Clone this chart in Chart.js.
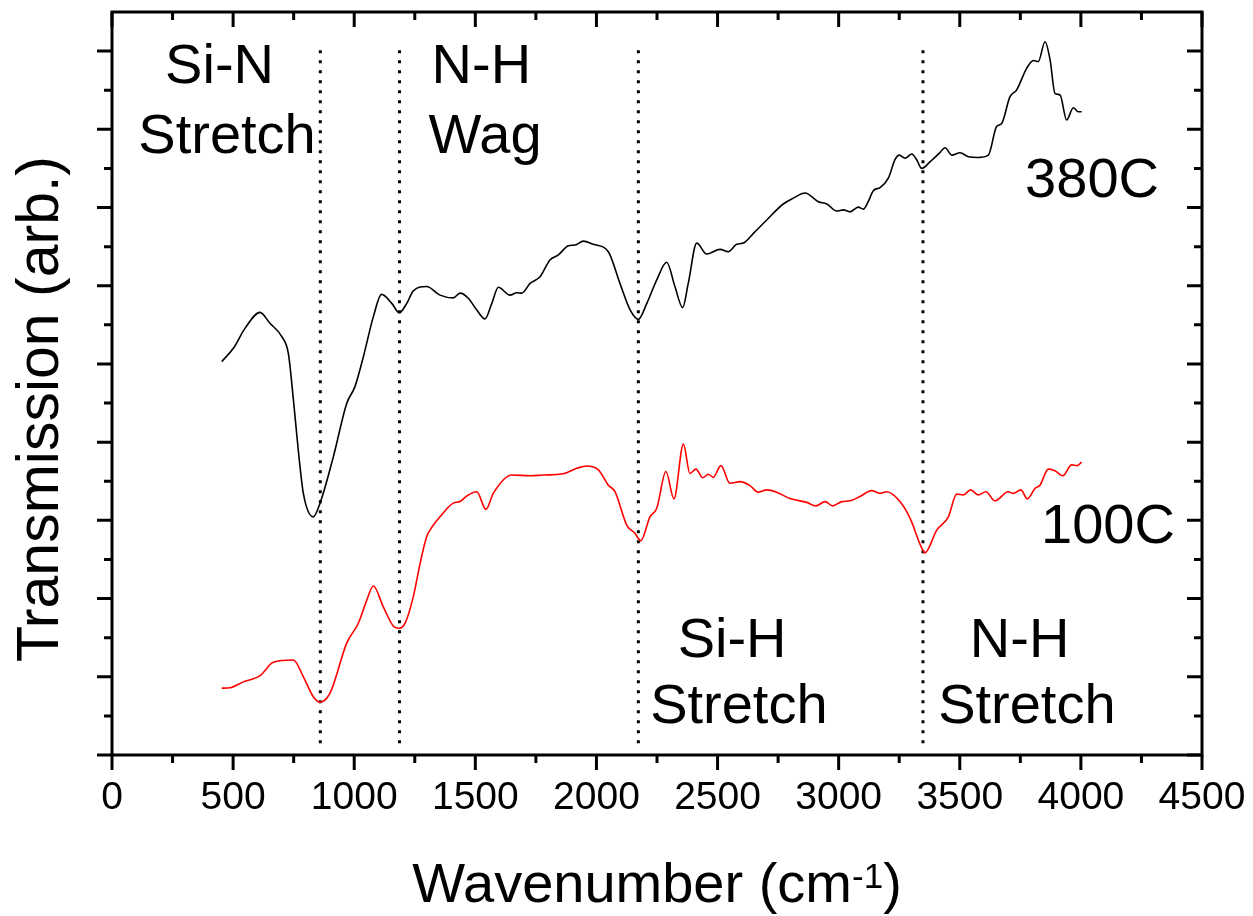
<!DOCTYPE html>
<html>
<head>
<meta charset="utf-8">
<script src="https://cdn.jsdelivr.net/npm/chart.js@4.4.0/dist/chart.umd.min.js"></script>
<style>
  html, body { margin: 0; padding: 0; background: #fff; }
  #wrap { width: 1253px; height: 916px; }
</style>
</head>
<body>
<div id="wrap"><canvas id="chart" width="1253" height="916"></canvas></div>
<script>
// 380C film spectrum
const wn380 = [
  453, 501, 549, 611, 652, 701, 728, 749, 769, 790,
  831, 859, 914, 969, 1003, 1038, 1079, 1113, 1155, 1186,
  1217, 1244, 1299, 1354, 1409, 1437, 1471, 1506, 1540, 1568,
  1595, 1643, 1671, 1691, 1726, 1767, 1808, 1843, 1884, 1912,
  1946, 1987, 2049, 2097, 2139, 2173, 2208, 2249, 2290, 2324,
  2356, 2379, 2414, 2455, 2510, 2544, 2579, 2606, 2648, 2703,
  2771, 2813, 2861, 2916, 2951, 2992, 3019, 3047, 3081, 3102,
  3122, 3143, 3171, 3205, 3233, 3250, 3274, 3302, 3322, 3343,
  3377, 3416, 3439, 3467, 3501, 3535, 3576, 3618, 3652, 3673,
  3707, 3735, 3776, 3804, 3824, 3852, 3873, 3893, 3914, 3941,
  3969, 3989, 4003
];
const tr380 = [
  10.06, 10.40, 10.91, 11.32, 11.04, 10.70, 10.27, 9.08, 7.80, 6.69,
  6.09, 6.44, 7.63, 8.99, 9.42, 10.19, 11.21, 11.78, 11.55, 11.31,
  11.55, 11.87, 11.98, 11.76, 11.69, 11.81, 11.68, 11.38, 11.15, 11.55,
  11.96, 11.76, 11.82, 11.81, 12.06, 12.23, 12.66, 12.79, 13.02, 13.04,
  13.14, 13.06, 12.87, 12.06, 11.38, 11.14, 11.55, 12.15, 12.60, 11.98,
  11.44, 12.06, 13.09, 12.81, 12.93, 12.87, 13.06, 13.09, 13.34, 13.68,
  14.09, 14.24, 14.37, 14.15, 14.09, 13.91, 13.94, 13.89, 14.01, 13.96,
  14.15, 14.43, 14.51, 14.75, 15.23, 15.34, 15.26, 15.37, 15.22, 15.00,
  15.17, 15.39, 15.53, 15.34, 15.40, 15.30, 15.28, 15.34, 16.07, 16.15,
  16.83, 17.01, 17.56, 17.76, 17.73, 18.24, 17.77, 16.92, 16.88, 16.24,
  16.55, 16.45, 16.45
];

// 100C film spectrum
const wn100 = [
  453, 487, 542, 611, 666, 749, 790, 831, 859, 900,
  969, 1017, 1052, 1079, 1120, 1161, 1186, 1210, 1244, 1272,
  1299, 1313, 1354, 1409, 1437, 1464, 1506, 1544, 1574, 1650,
  1726, 1781, 1863, 1919, 1960, 2008, 2049, 2077, 2125, 2159,
  2183, 2221, 2249, 2287, 2320, 2359, 2386, 2411, 2439, 2462,
  2482, 2514, 2551, 2593, 2634, 2668, 2703, 2744, 2799, 2868,
  2906, 2944, 2975, 3013, 3047, 3088, 3136, 3171, 3198, 3253,
  3295, 3343, 3356, 3405, 3453, 3487, 3515, 3545, 3576, 3608,
  3645, 3700, 3721, 3752, 3779, 3811, 3831, 3866, 3893, 3925,
  3962, 3985, 4003
];
const tr100 = [
  1.71, 1.72, 1.87, 2.03, 2.37, 2.43, 2.00, 1.49, 1.35, 1.58,
  2.86, 3.37, 3.96, 4.32, 3.79, 3.30, 3.24, 3.37, 4.05, 4.90,
  5.58, 5.75, 6.09, 6.44, 6.48, 6.62, 6.73, 6.28, 6.69, 7.16,
  7.14, 7.16, 7.19, 7.33, 7.39, 7.29, 6.90, 6.73, 5.88, 5.67,
  5.48, 6.09, 6.31, 7.25, 6.55, 7.95, 7.20, 7.31, 7.09, 7.18,
  7.10, 7.40, 6.95, 6.99, 6.89, 6.72, 6.78, 6.72, 6.56, 6.46,
  6.37, 6.48, 6.37, 6.48, 6.50, 6.61, 6.76, 6.69, 6.73, 6.48,
  6.05, 5.29, 5.17, 5.75, 6.09, 6.67, 6.65, 6.78, 6.65, 6.73,
  6.50, 6.73, 6.69, 6.78, 6.55, 6.82, 6.90, 7.31, 7.27, 7.14,
  7.42, 7.40, 7.49
];

// band markers (dotted lines)
const bandPositions = [860, 1187, 2173, 3348];
const bandRange = [0.3, 18.05];

// axis ticks
const xMajorTicks = [0, 500, 1000, 1500, 2000, 2500, 3000, 3500, 4000, 4500];
const xMinorTicks = [250, 750, 1250, 1750, 2250, 2750, 3250, 3750, 4250];
const yMajorTicks = [0, 2, 4, 6, 8, 10, 12, 14, 16, 18];
const yMinorTicks = [1, 3, 5, 7, 9, 11, 13, 15, 17];

// annotation labels
const labelTexts = ['Si-N', 'Stretch', 'N-H', 'Wag', 'Si-H', 'Stretch', 'N-H', 'Stretch', '380C', '100C'];
const labelX = [444, 475, 1525, 1540, 2560, 2588, 3747, 3777, 4046, 4112];
const labelY = [17.18, 15.39, 17.18, 15.39, 2.51, 0.82, 2.51, 0.82, 14.27, 5.42];

const FONT = '"Liberation Sans", Arial, Helvetica, sans-serif';

const toPoints = (xs, ys) => xs.map((v, i) => ({ x: v, y: ys[i] }));

const datasets = [
  {
    label: '380C',
    data: toPoints(wn380, tr380),
    borderColor: '#000000',
    borderWidth: 1.6,
    pointRadius: 0,
    cubicInterpolationMode: 'monotone'
  },
  {
    label: '100C',
    data: toPoints(wn100, tr100),
    borderColor: '#ff0000',
    borderWidth: 1.6,
    pointRadius: 0,
    cubicInterpolationMode: 'monotone'
  }
];

bandPositions.forEach(b => {
  datasets.push({
    label: 'band ' + b,
    data: [{ x: b, y: bandRange[0] }, { x: b, y: bandRange[1] }],
    borderColor: '#000000',
    borderWidth: 3,
    borderDash: [3, 7],
    pointRadius: 0
  });
});

const framePlugin = {
  id: 'frame',
  afterDraw(chart) {
    const { ctx, chartArea: a, scales: { x, y } } = chart;
    ctx.save();
    ctx.strokeStyle = '#000';
    ctx.lineWidth = 3;
    ctx.lineCap = 'butt';
    ctx.strokeRect(a.left, a.top, a.right - a.left, a.bottom - a.top);

    ctx.beginPath();
    const xt = (list, len) => list.forEach(v => {
      const p = x.getPixelForValue(v);
      ctx.moveTo(p, a.bottom); ctx.lineTo(p, a.bottom + len);
      ctx.moveTo(p, a.top); ctx.lineTo(p, a.top + len);
    });
    const yt = (list, len) => list.forEach(v => {
      const p = y.getPixelForValue(v);
      ctx.moveTo(a.left, p); ctx.lineTo(a.left - len, p);
      ctx.moveTo(a.right, p); ctx.lineTo(a.right - len, p);
    });
    xt(xMajorTicks, 15);
    xt(xMinorTicks, 8);
    yt(yMajorTicks, 15);
    yt(yMinorTicks, 8);
    ctx.stroke();

    // annotations
    ctx.fillStyle = '#000';
    ctx.font = '56px ' + FONT;
    ctx.textAlign = 'center';
    ctx.textBaseline = 'alphabetic';
    labelTexts.forEach((t, i) => {
      ctx.fillText(t, x.getPixelForValue(labelX[i]), y.getPixelForValue(labelY[i]));
    });

    // y axis title
    ctx.save();
    ctx.translate(58, 409);
    ctx.rotate(-Math.PI / 2);
    ctx.font = '59px ' + FONT;
    ctx.fillText('Transmission (arb.)', 0, 0);
    ctx.restore();

    // x axis title with superscript
    const main1 = 'Wavenumber (cm';
    const sup = '-1';
    const main2 = ')';
    const bigF = '56px ' + FONT;
    const supF = '35px ' + FONT;
    ctx.textAlign = 'left';
    ctx.font = bigF;
    const w1 = ctx.measureText(main1).width;
    const w3 = ctx.measureText(main2).width;
    ctx.font = supF;
    const w2 = ctx.measureText(sup).width;
    const cx = (a.left + a.right) / 2;
    let sx = cx - (w1 + w2 + w3) / 2;
    const base = 902;
    ctx.font = bigF;
    ctx.fillText(main1, sx, base);
    sx += w1;
    ctx.font = supF;
    ctx.fillText(sup, sx, base - 14);
    sx += w2;
    ctx.font = bigF;
    ctx.fillText(main2, sx, base);
    ctx.restore();
  }
};

new Chart(document.getElementById('chart'), {
  type: 'line',
  data: { datasets },
  options: {
    responsive: false,
    animation: false,
    layout: { padding: { top: 12, right: 0, left: 0, bottom: 0 } },
    plugins: { legend: { display: false }, tooltip: { enabled: false } },
    scales: {
      x: {
        type: 'linear',
        min: 0,
        max: 4500,
        // invisible tick marks only reserve room above the labels
        grid: { display: true, drawOnChartArea: false, drawTicks: true, tickLength: 20, color: 'rgba(0,0,0,0)' },
        border: { display: false },
        ticks: {
          stepSize: 500,
          color: '#000',
          padding: 0,
          maxRotation: 0,
          font: { family: FONT, size: 39 },
          callback: v => String(v)
        },
        afterFit(scale) { scale.height = 161; }
      },
      y: {
        min: 0,
        max: 19,
        grid: { display: false },
        border: { display: false },
        ticks: { display: false },
        afterFit(scale) { scale.width = 112; }
      },
      yRight: {
        position: 'right',
        min: 0,
        max: 19,
        grid: { display: false },
        border: { display: false },
        ticks: { display: false },
        afterFit(scale) { scale.width = 51; }
      }
    }
  },
  plugins: [framePlugin]
});
</script>
</body>
</html>
